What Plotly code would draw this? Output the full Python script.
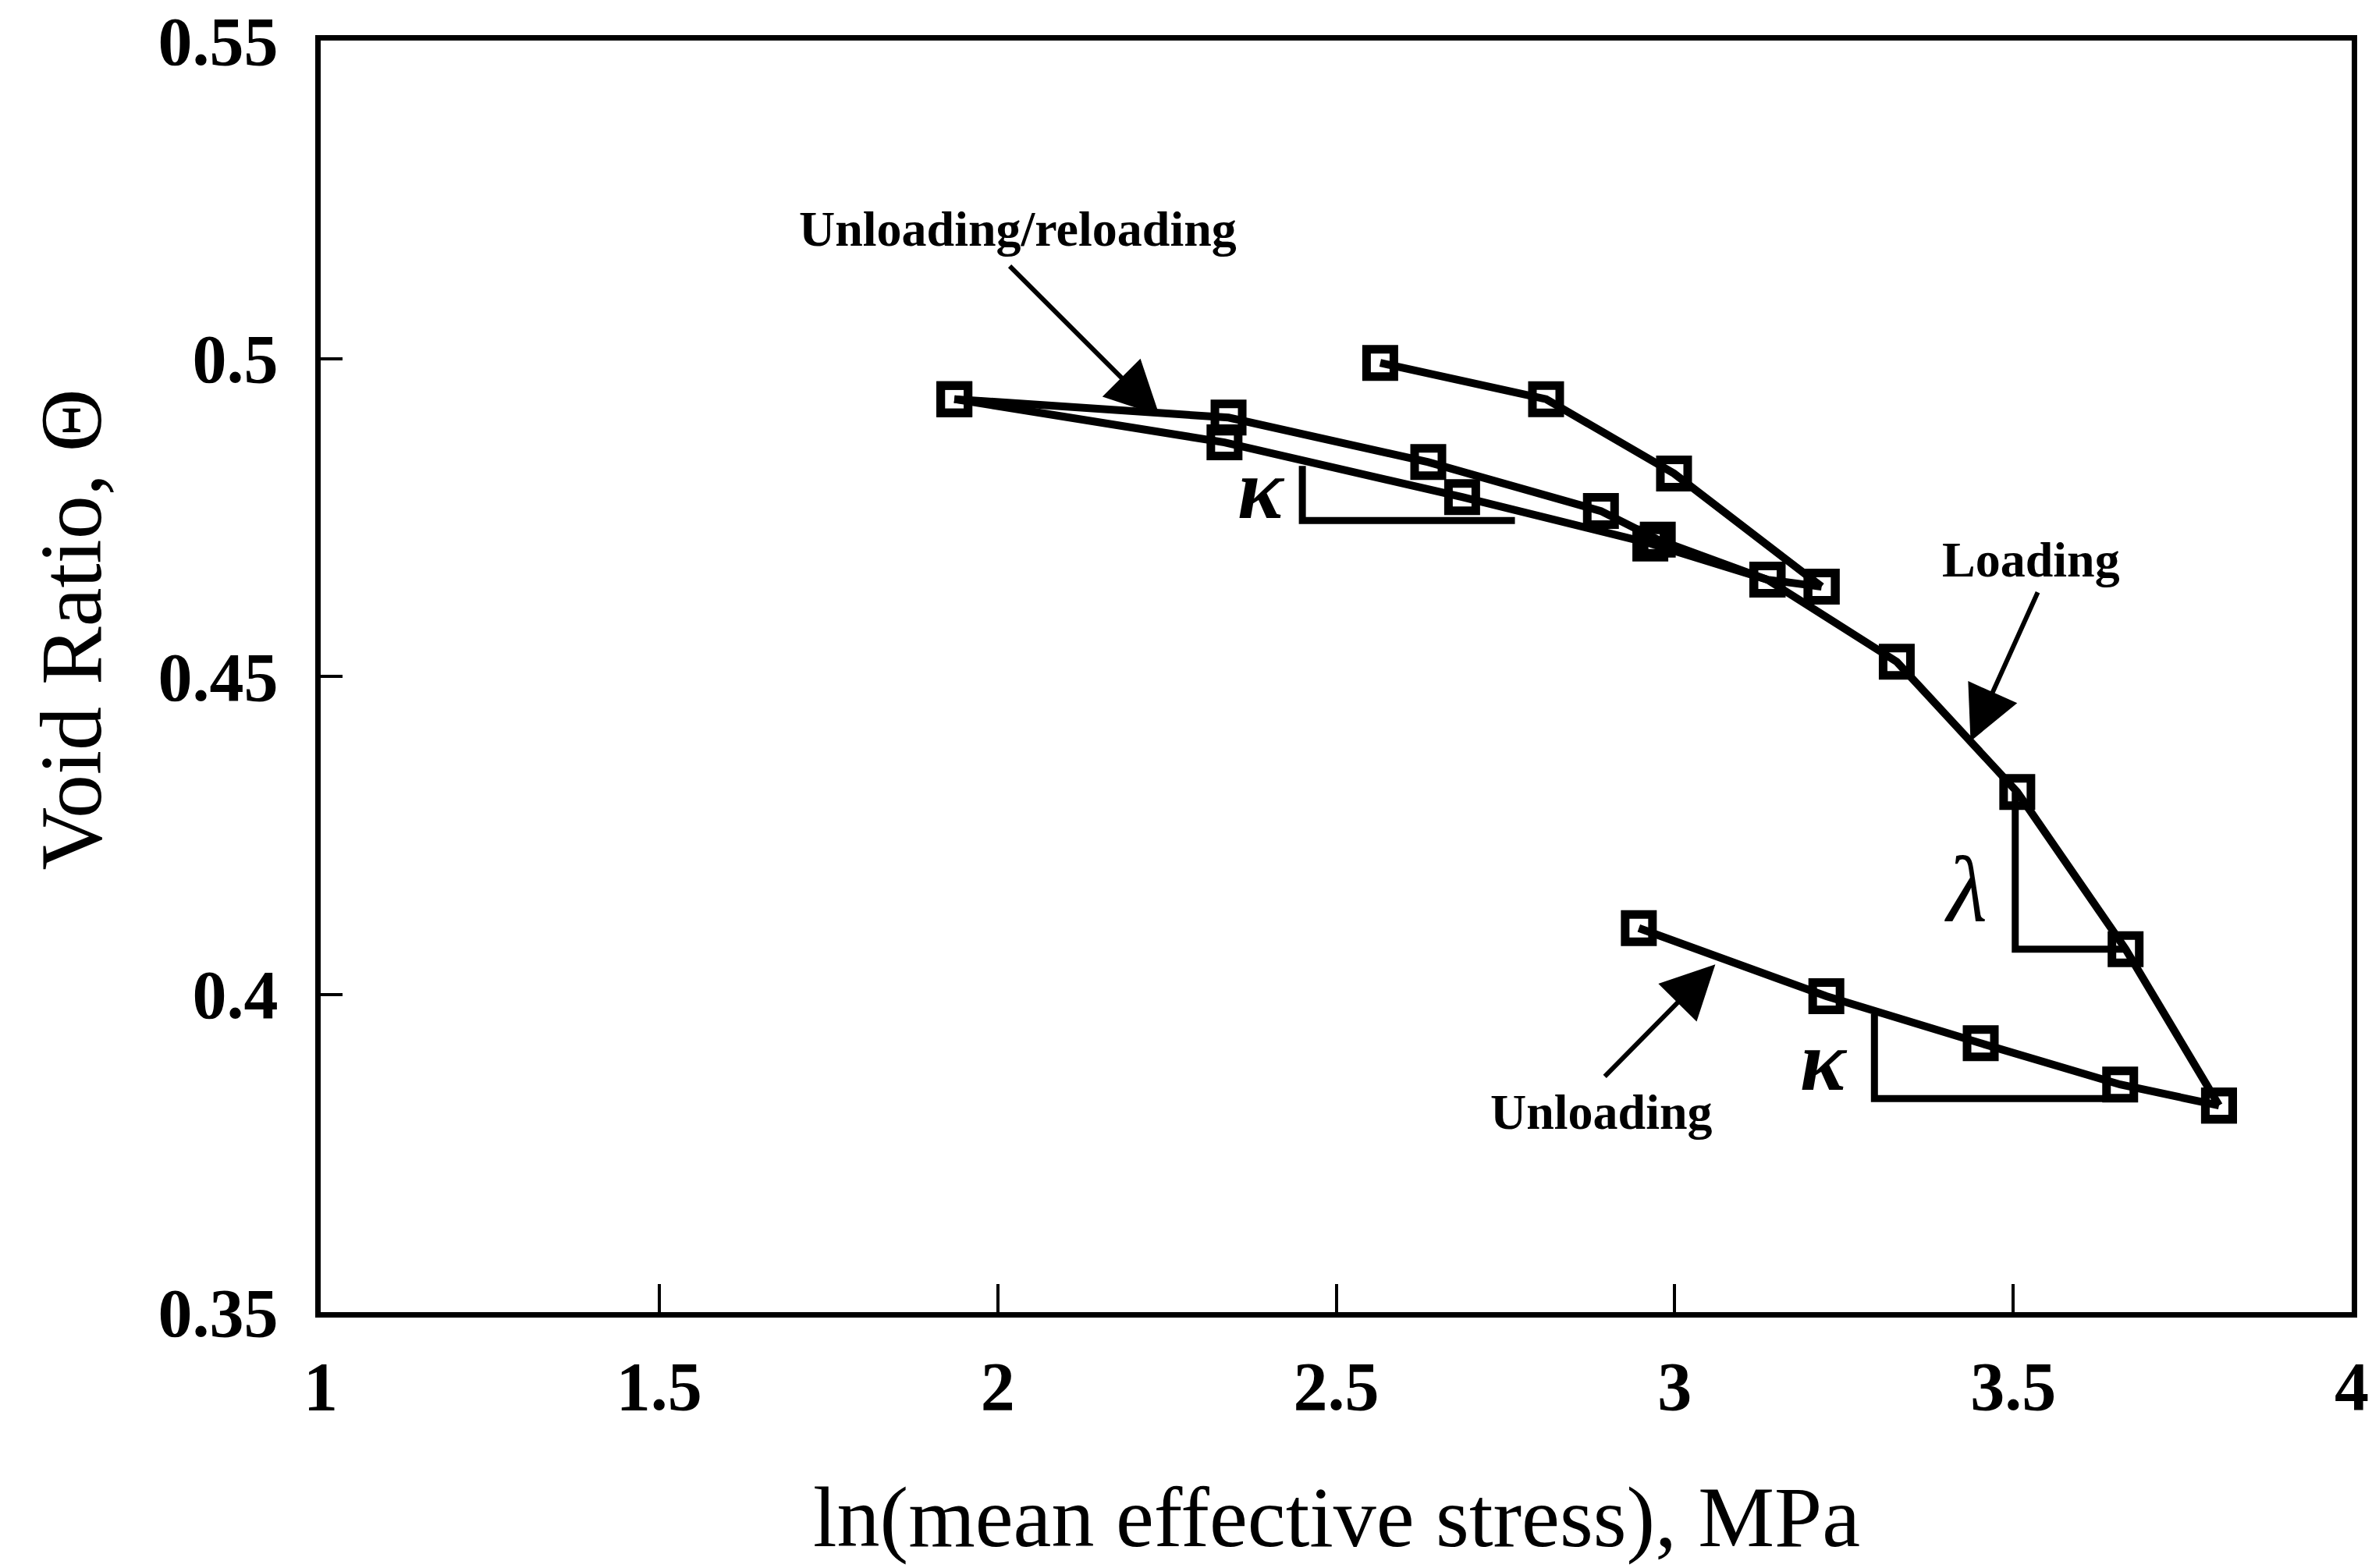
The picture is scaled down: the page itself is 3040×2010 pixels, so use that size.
import plotly.graph_objects as go

# ln(mean effective stress) [MPa] and void ratio along each stage of the test
loading_1_x = [2.565, 2.810, 2.999, 3.217]
loading_1_e = [0.4993, 0.4936, 0.4819, 0.4641]

unloading_1_x = [3.217, 3.137, 2.964, 2.686, 2.335, 1.936]
unloading_1_e = [0.4641, 0.4652, 0.4709, 0.4782, 0.4868, 0.4936]

reloading_x = [1.936, 2.341, 2.636, 2.891, 2.975, 3.137]
reloading_e = [0.4936, 0.4907, 0.4837, 0.4760, 0.4715, 0.4652]

loading_2_x = [3.137, 3.328, 3.506, 3.666, 3.804]
loading_2_e = [0.4652, 0.4523, 0.4318, 0.4071, 0.3825]

unloading_2_x = [3.804, 3.658, 3.452, 3.224, 2.947]
unloading_2_e = [0.3825, 0.3858, 0.3923, 0.3997, 0.4104]

# slope triangles (kappa on the unloading/reloading loop, lambda on loading, kappa on final unloading)
kappa_1_x = [2.450, 2.450, 2.764]
kappa_1_e = [0.4831, 0.4745, 0.4745]
lambda_x = [3.503, 3.503, 3.666]
lambda_e = [0.4318, 0.4071, 0.4071]
kappa_2_x = [3.295, 3.295, 3.658]
kappa_2_e = [0.3969, 0.3836, 0.3836]

x_ticks = [1, 1.5, 2, 2.5, 3, 3.5, 4]
x_tick_text = ["1", "1.5", "2", "2.5", "3", "3.5", "4"]
y_ticks = [0.35, 0.4, 0.45, 0.5, 0.55]
y_tick_text = ["0.35", "0.4", "0.45", "0.5", "0.55"]

SERIF = "Liberation Serif"
INK = "black"

fig = go.Figure()

for xs, es in [(loading_1_x, loading_1_e), (unloading_1_x, unloading_1_e),
               (reloading_x, reloading_e), (loading_2_x, loading_2_e),
               (unloading_2_x, unloading_2_e)]:
    fig.add_trace(go.Scatter(
        x=xs, y=es, mode="lines+markers",
        line=dict(color=INK, width=10),
        marker=dict(symbol="square-open", size=35, color=INK, line=dict(width=11, color=INK)),
        showlegend=False, hoverinfo="skip",
    ))

for xs, es in [(kappa_1_x, kappa_1_e), (lambda_x, lambda_e), (kappa_2_x, kappa_2_e)]:
    fig.add_trace(go.Scatter(
        x=xs, y=es, mode="lines",
        line=dict(color=INK, width=9),
        showlegend=False, hoverinfo="skip",
    ))

annotations = []

# curve labels
for txt, x, y in [("Unloading/reloading", 2.030, 0.5204),
                  ("Loading", 3.526, 0.4683),
                  ("Unloading", 2.892, 0.3815)]:
    annotations.append(dict(
        text=txt, x=x, y=y, xref="x", yref="y", showarrow=False,
        font=dict(family=SERIF, size=64, color=INK, weight="bold"),
        xanchor="center", yanchor="middle",
    ))

# pointer arrows (tail -> tip)
for tail_x, tail_y, tip_x, tip_y in [(2.016, 0.5147, 2.239, 0.4910),
                                     (3.537, 0.4634, 3.437, 0.4398),
                                     (2.895, 0.3869, 3.060, 0.4047)]:
    annotations.append(dict(
        text="", x=tip_x, y=tip_y, ax=tail_x, ay=tail_y,
        xref="x", yref="y", axref="x", ayref="y",
        showarrow=True, arrowhead=2, arrowsize=2.3, arrowwidth=6,
        arrowcolor=INK, standoff=0, startstandoff=0,
    ))

# slope symbols
for sym, x, y, size in [("κ", 2.389, 0.4795, 110), ("κ", 3.220, 0.3895, 110), ("λ", 3.430, 0.4165, 120)]:
    annotations.append(dict(
        text=sym, x=x, y=y, xref="x", yref="y", showarrow=False,
        font=dict(family=SERIF, size=size, color=INK, style="italic",
                  weight="bold" if sym == "κ" else "normal"),
        xanchor="center", yanchor="middle",
    ))

# axis titles
annotations.append(dict(
    text="ln(mean effective stress), MPa", x=0.5, y=-0.1613,
    xref="paper", yref="paper", showarrow=False,
    font=dict(family=SERIF, size=110, color=INK),
    xanchor="center", yanchor="middle",
))
annotations.append(dict(
    text="Void Ratio, Θ", x=-0.123, y=0.537,
    xref="paper", yref="paper", showarrow=False, textangle=-90,
    font=dict(family=SERIF, size=112, color=INK),
    xanchor="center", yanchor="middle",
))

axis_common = dict(
    showline=True, linewidth=7, linecolor=INK, mirror=True,
    ticks="inside", tickwidth=4, tickcolor=INK,
    showgrid=False, zeroline=False, automargin=False,
    tickfont=dict(family=SERIF, size=88, color=INK, weight="bold"),
)

fig.update_layout(
    width=3040, height=2010,
    margin=dict(l=411, r=26, t=52, b=328),
    paper_bgcolor="white", plot_bgcolor="white",
    xaxis=dict(range=[1, 4], tickvals=x_ticks, ticktext=x_tick_text,
               ticklen=36, ticklabelstandoff=12, ticklabeloverflow="allow",
               **axis_common),
    yaxis=dict(range=[0.35, 0.55], tickvals=y_ticks, ticktext=y_tick_text,
               ticklen=28, ticklabelstandoff=30, **axis_common),
    annotations=annotations,
)

fig.write_html("out.html")
